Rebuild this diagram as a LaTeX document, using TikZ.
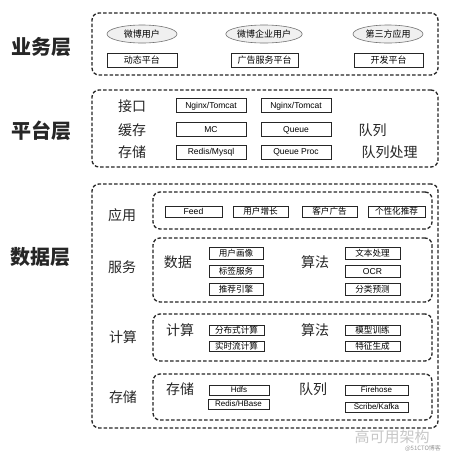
\documentclass[tikz,border=0pt]{standalone}
\usepackage{fontspec}
\setmainfont{Liberation Sans}
\newfontfamily\cjk{Noto Sans CJK SC}
\usetikzlibrary{shapes.geometric,shadows}
\tikzset{
  panel/.style={draw=black!85, line width=1.3pt, dash pattern=on 3.5pt off 2pt, rounded corners=7pt, inner sep=0pt},
  layerlabel/.style={font=\cjk\bfseries\fontsize{20}{22}\selectfont, text=black!85},
  rowlabel/.style={font=\cjk\fontsize{14}{15}\selectfont, text=black!85},
  boxbase/.style={draw=black!85, line width=1pt, fill=white, inner sep=0pt, minimum height=14pt,
    drop shadow={shadow xshift=0.6pt, shadow yshift=-0.6pt, opacity=0.4}},
  sbox/.style={boxbase, text height=6.4pt, text depth=0.6pt, font=\fontsize{8.5}{10}\selectfont},
  cbox/.style={boxbase, text height=7.6pt, text depth=0.6pt, font=\cjk\fontsize{9}{10}\selectfont},
  tbox/.style={boxbase, minimum height=11pt, text height=7.2pt, text depth=0.6pt, font=\cjk\fontsize{8.6}{9}\selectfont},
  tboxl/.style={boxbase, minimum height=10pt, text height=6pt, text depth=0.5pt, font=\fontsize{8}{9}\selectfont},
  ell/.style={ellipse, draw=black!55, line width=0.6pt, fill=black!6, inner sep=0pt, minimum height=18pt,
    text height=7.6pt, text depth=0.6pt, font=\cjk\fontsize{9}{10}\selectfont}
}
\begin{document}
\begin{tikzpicture}[x=1pt,y=-1pt]
\useasboundingbox[fill=white] (0,0) rectangle (452,459);

% layer labels
\node[layerlabel] (lbiz) at (42,47) {业务层};
\node[layerlabel] (lplat) at (42,131) {平台层};
\node[layerlabel] (ldata) at (41,257) {数据层};

% panels
\node[panel, minimum width=346pt, minimum height=62pt] (biz) at (265,44) {};
\node[panel, minimum width=346pt, minimum height=77pt] (plat) at (265,128.5) {};
\node[panel, minimum width=346pt, minimum height=244pt] (data) at (265,306) {};
\node[panel, minimum width=279pt, minimum height=37pt] (app) at (292.5,210.5) {};
\node[panel, minimum width=279pt, minimum height=64pt] (svc) at (292.5,270) {};
\node[panel, minimum width=279pt, minimum height=47pt] (comp) at (292.5,337.5) {};
\node[panel, minimum width=279pt, minimum height=46pt] (stor) at (292.5,397) {};

% business layer
\node[ell, minimum width=70pt] (u1) at (142,34) {微博用户};
\node[ell, minimum width=68pt] (u2) at (264,34) {微博企业用户};
\node[ell, minimum width=70pt] (u3) at (388,34) {第三方应用};
\node[cbox, minimum width=70pt] (p1) at (142,60) {动态平台};
\node[cbox, minimum width=67pt] (p2) at (264.5,60) {广告服务平台};
\node[cbox, minimum width=69pt] (p3) at (388.5,60) {开发平台};

% platform layer
\node[rowlabel] (ljk) at (132,106) {接口};
\node[rowlabel] (lhc) at (132,130) {缓存};
\node[rowlabel] (lcc) at (132,152.5) {存储};
\node[sbox, minimum width=70pt] (n1) at (211,105.5) {Nginx/Tomcat};
\node[sbox, minimum width=70pt] (n2) at (296,105.5) {Nginx/Tomcat};
\node[sbox, minimum width=70pt] (mc) at (211,129.5) {MC};
\node[sbox, minimum width=70pt] (q) at (296,129.5) {Queue};
\node[sbox, minimum width=70pt] (rm) at (211,152) {Redis/Mysql};
\node[sbox, minimum width=70pt] (qp) at (296,152) {Queue Proc};
\node[rowlabel, anchor=west] (lq) at (355,130) {队列};
\node[rowlabel, anchor=west] (lqp) at (358,152.5) {队列处理};

% data layer: outer row labels
\node[rowlabel] (lyy) at (122,215) {应用};
\node[rowlabel] (lfw) at (122,267) {服务};
\node[rowlabel] (ljs) at (123,337) {计算};
\node[rowlabel] (lcc2) at (123,397) {存储};

% application row
\node[tbox, minimum width=57pt] (a1) at (193.5,211.5) {\fontspec{Liberation Sans}Feed};
\node[tbox, minimum width=55pt] (a2) at (260.5,211.5) {用户增长};
\node[tbox, minimum width=55pt] (a3) at (329.5,211.5) {客户广告};
\node[tbox, minimum width=57pt] (a4) at (396.5,211.5) {个性化推荐};

% service row
\node[rowlabel] (lsj) at (178,262) {数据};
\node[tbox, minimum width=54pt, minimum height=12pt] (s1) at (236,253.5) {用户画像};
\node[tbox, minimum width=54pt, minimum height=12pt] (s2) at (236,271.5) {标签服务};
\node[tbox, minimum width=54pt, minimum height=12pt] (s3) at (236,289) {推荐引擎};
\node[rowlabel] (lsf) at (315,262) {算法};
\node[tbox, minimum width=55pt, minimum height=12pt] (s4) at (372.5,253.5) {文本处理};
\node[tbox, minimum width=55pt, minimum height=12pt] (s5) at (372.5,271.5) {\fontspec{Liberation Sans}OCR};
\node[tbox, minimum width=55pt, minimum height=12pt] (s6) at (372.5,289) {分类预测};

% compute row
\node[rowlabel] (ljs2) at (180,330) {计算};
\node[tbox, minimum width=55pt, minimum height=10pt] (c1) at (236.5,330.5) {分布式计算};
\node[tbox, minimum width=55pt, minimum height=10pt] (c2) at (236.5,346) {实时流计算};
\node[rowlabel] (lsf2) at (315,330) {算法};
\node[tbox, minimum width=55pt, minimum height=10pt] (c3) at (372.5,330.5) {模型训练};
\node[tbox, minimum width=55pt, minimum height=10pt] (c4) at (372.5,346) {特征生成};

% storage row
\node[rowlabel] (lcc3) at (180,389) {存储};
\node[tboxl, minimum width=60pt] (d1) at (239,390) {Hdfs};
\node[tboxl, minimum width=61pt] (d2) at (238.5,404) {Redis/HBase};
\node[rowlabel] (ldl) at (313,389) {队列};
\node[tboxl, minimum width=63pt] (d3) at (376.5,390) {Firehose};
\node[tboxl, minimum width=63pt] (d4) at (376.5,407) {Scribe/Kafka};

% watermark
\node[font=\cjk\fontsize{15}{16}\selectfont, text=black!22] (wm) at (392,437) {高可用架构};
\node[font=\cjk\fontsize{6}{7}\selectfont, text=black!40] (wm2) at (423,448.5) {@51CTO博客};
\end{tikzpicture}
\end{document}
